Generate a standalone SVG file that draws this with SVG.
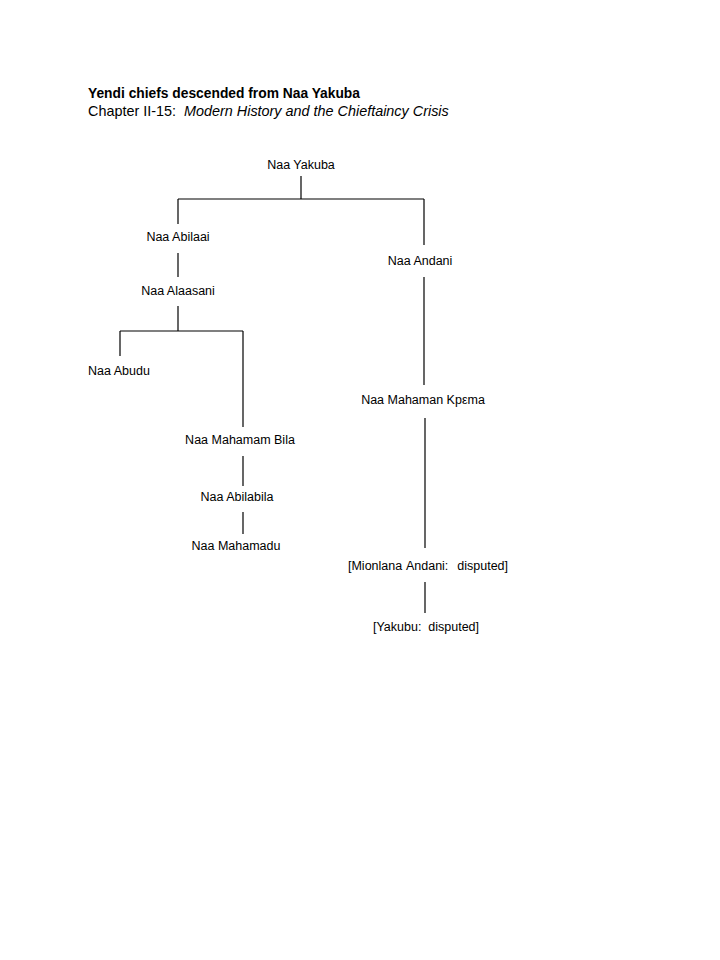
<svg xmlns="http://www.w3.org/2000/svg" width="720" height="960" viewBox="0 0 720 960">
<style>
text{font-family:"Liberation Sans",Arial,sans-serif;fill:#000}
.t{font-size:13.8px;font-weight:bold}
.s{font-size:14.4px}
.n{font-size:12.5px;text-anchor:middle}
.c line{stroke:#000;stroke-width:1.2;fill:none}
</style>
<rect width="720" height="960" fill="#fff"/>
<g id="title">
<text class="t" x="88" y="98">Yendi chiefs descended from Naa Yakuba</text>
<text class="s" x="88" y="116" xml:space="preserve">Chapter II-15:  <tspan font-style="italic">Modern History and the Chieftaincy Crisis</tspan></text>
</g>
<g class="c" id="connectors">
<line x1="301" y1="176" x2="301" y2="199"/>
<line x1="178" y1="199" x2="424" y2="199"/>
<line x1="178" y1="199" x2="178" y2="224"/>
<line x1="424" y1="199" x2="424" y2="245"/>
<line x1="178" y1="253" x2="178" y2="277"/>
<line x1="178" y1="306" x2="178" y2="331"/>
<line x1="120" y1="331" x2="243" y2="331"/>
<line x1="120" y1="331" x2="120" y2="356"/>
<line x1="243" y1="331" x2="243" y2="427"/>
<line x1="243" y1="456" x2="243" y2="486"/>
<line x1="243" y1="512" x2="243" y2="534"/>
<line x1="424" y1="277" x2="424" y2="385"/>
<line x1="425" y1="418" x2="425" y2="548"/>
<line x1="425" y1="582" x2="425" y2="613"/>
</g>
<g id="n1"><text class="n" x="301" y="169">Naa Yakuba</text></g>
<g id="n2"><text class="n" x="178" y="241">Naa Abilaai</text></g>
<g id="n3"><text class="n" x="178" y="295">Naa Alaasani</text></g>
<g id="n4"><text class="n" x="119" y="375">Naa Abudu</text></g>
<g id="n5"><text class="n" x="240" y="444">Naa Mahamam Bila</text></g>
<g id="n6"><text class="n" x="237" y="501">Naa Abilabila</text></g>
<g id="n7"><text class="n" x="236" y="550">Naa Mahamadu</text></g>
<g id="n8"><text class="n" x="420" y="265">Naa Andani</text></g>
<g id="n9"><text class="n" x="423" y="404">Naa Mahaman Kpεma</text></g>
<g id="n10"><text class="n" x="428" y="570" xml:space="preserve" word-spacing="1">[Mionlana Andani:  disputed]</text></g>
<g id="n11"><text class="n" x="426" y="631" xml:space="preserve">[Yakubu:  disputed]</text></g>
</svg>
